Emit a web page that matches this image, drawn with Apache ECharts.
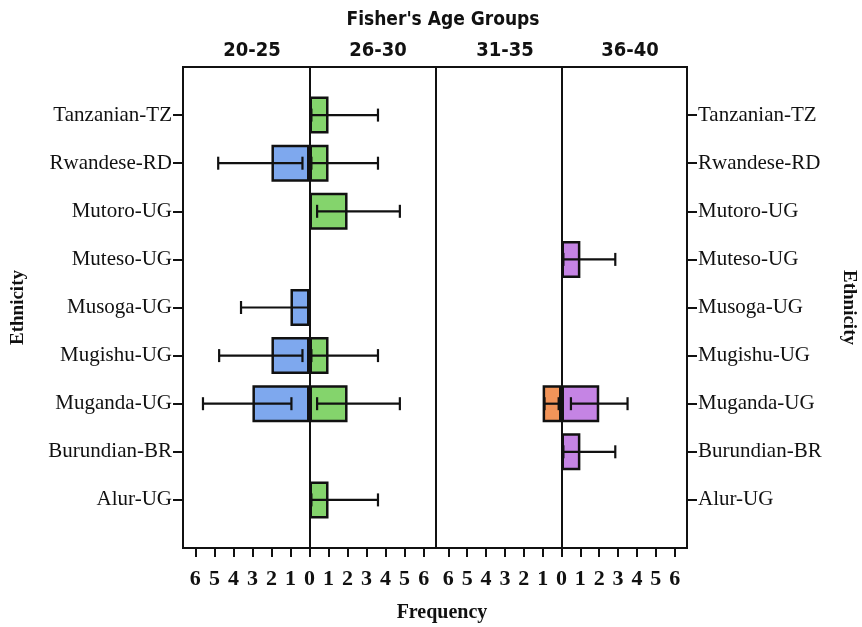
<!DOCTYPE html>
<html>
<head>
<meta charset="utf-8">
<script src="https://cdn.jsdelivr.net/npm/echarts@6/dist/echarts.min.js"></script>
<style>
  html, body { margin: 0; padding: 0; background: #fff; }
  #main { width: 862px; height: 627px; }
</style>
</head>
<body>
<div id="main"></div>
<script>
// ethnic groups, top to bottom as in the figure
var ethnicity = ['Tanzanian-TZ', 'Rwandese-RD', 'Mutoro-UG', 'Muteso-UG', 'Musoga-UG',
                 'Mugishu-UG', 'Muganda-UG', 'Burundian-BR', 'Alur-UG'];
var ageGroups = ['20-25', '26-30', '31-35', '36-40'];
var tickValues = [0, 1, 2, 3, 4, 5, 6];

// frequency per age group (same order as ethnicity)
var freq2025 = [0, 2, 0, 0, 1, 2, 3, 0, 0];
var freq2630 = [1, 1, 2, 0, 0, 1, 2, 0, 1];
var freq3135 = [0, 0, 0, 0, 0, 0, 1, 0, 0];
var freq3640 = [0, 0, 0, 1, 0, 0, 2, 1, 0];

// error bar ends (low / high), null = no bar
var err2025Low  = [null, 0.37, null, null, 0.05, 0.37, 0.95, null, null];
var err2025High = [null, 4.8,  null, null, 3.6,  4.75, 5.6,  null, null];
var err2630Low  = [0.1, 0.1, 0.4, null, null, 0.1, 0.4, null, 0.1];
var err2630High = [3.6, 3.6, 4.75, null, null, 3.6, 4.75, null, 3.6];
var err3135Low  = [null, null, null, null, null, null, 0.15, null, null];
var err3135High = [null, null, null, null, null, null, 0.9, null, null];
var err3640Low  = [null, null, null, 0.1, null, null, 0.5, 0.1, null];
var err3640High = [null, null, null, 2.85, null, null, 3.5, 2.85, null];

var colors = ['#7ea8ee', '#84d46c', '#f29459', '#c584e4'];

// category axis padded with an empty slot at each end, bottom-up
var axisCats = [''].concat(ethnicity.slice().reverse()).concat(['']);
function catIndex(i) { return ethnicity.length - i; }

function barData(arr, sign) {
    return arr.map(function (v, i) {
        return v ? [sign * v, catIndex(i)] : null;
    }).filter(function (d) { return d; });
}
function errData(lo, hi, sign) {
    var out = [];
    lo.forEach(function (v, i) {
        if (v != null) out.push([sign * v, catIndex(i), sign * hi[i]]);
    });
    return out;
}

function renderErr(params, api) {
    var a = api.coord([api.value(0), api.value(1)]);
    var b = api.coord([api.value(2), api.value(1)]);
    var h = 6.5;
    var st = { stroke: '#111', lineWidth: 2.2 };
    return {
        type: 'group',
        children: [
            { type: 'line', shape: { x1: a[0], y1: a[1], x2: b[0], y2: b[1] }, style: st },
            { type: 'line', shape: { x1: a[0], y1: a[1] - h, x2: a[0], y2: a[1] + h }, style: st },
            { type: 'line', shape: { x1: b[0], y1: b[1] - h, x2: b[0], y2: b[1] + h }, style: st }
        ]
    };
}

var serif = '"Liberation Serif", "DejaVu Serif", serif';
var narrow = '"Liberation Sans Narrow", "DejaVu Sans Condensed", "Liberation Sans", sans-serif';

function xAxisFor(idx) {
    var ticks = [];
    tickValues.forEach(function (t) { ticks.push(-t); if (t) ticks.push(t); });
    return {
        type: 'value', gridIndex: idx, min: -6.65, max: 6.65,
        axisLine: { show: true, lineStyle: { color: '#111', width: 2 } },
        axisTick: { show: true, inside: false, length: 9, customValues: ticks,
                    lineStyle: { color: '#111', width: 2 } },
        axisLabel: { customValues: ticks, margin: 20, color: '#111',
                     fontFamily: serif, fontWeight: 'bold', fontSize: 22,
                     formatter: function (v) { return Math.abs(v); } },
        splitLine: { show: false }
    };
}
function yAxisFor(idx, pos, rot, gap) {
    return {
        type: 'category', gridIndex: idx, position: pos, data: axisCats,
        boundaryGap: false,
        name: 'Ethnicity', nameLocation: 'middle', nameGap: gap, nameRotate: rot,
        nameTextStyle: { fontFamily: serif, fontWeight: 'bold', fontSize: 19, color: '#111' },
        axisLine: { show: true, onZero: false, lineStyle: { color: '#111', width: 2 } },
        axisTick: { show: true, length: 10, lineStyle: { color: '#111', width: 2 },
                    interval: function (i, v) { return v !== ''; } },
        axisLabel: { margin: 11, color: '#111', fontFamily: serif, fontSize: 21,
                     interval: function (i, v) { return v !== ''; } }
    };
}

function zeroLine() {
    return {
        silent: true, symbol: 'none', label: { show: false },
        lineStyle: { color: '#111', width: 2, type: 'solid' },
        data: [{ xAxis: 0 }]
    };
}

var barStyle = function (c) {
    return { color: c, borderColor: '#111', borderWidth: 2.5 };
};

var headerX = [247, 373, 500, 625];
var titles = [{
    text: "Fisher's Age Groups", left: 438, top: 6, textAlign: 'center',
    textStyle: { fontFamily: narrow, fontWeight: 'bold', fontSize: 19, color: '#111' }
}, {
    text: 'Frequency', left: 437, top: 598, textAlign: 'center',
    textStyle: { fontFamily: serif, fontWeight: 'bold', fontSize: 20, color: '#111' }
}];
ageGroups.forEach(function (g, i) {
    titles.push({
        text: g, left: headerX[i], top: 36, textAlign: 'center',
        textStyle: { fontFamily: narrow, fontWeight: 'bold', fontSize: 20, color: '#111' }
    });
});

var myChart = echarts.init(document.getElementById('main'), null, { renderer: 'canvas' });
var option = {
    backgroundColor: '#fff',
    animation: false,
    title: titles,
    grid: [
        { left: 183, top: 67, width: 253, height: 481, show: true, borderColor: '#111', borderWidth: 2 },
        { left: 436, top: 67, width: 251, height: 481, show: true, borderColor: '#111', borderWidth: 2 }
    ],
    xAxis: [xAxisFor(0), xAxisFor(1)],
    yAxis: [yAxisFor(0, 'left', 90, 155), yAxisFor(1, 'right', -90, 152)],
    series: [
        { type: 'bar', name: ageGroups[0], xAxisIndex: 0, yAxisIndex: 0, barWidth: 37, barGap: '-100%',
          itemStyle: barStyle(colors[0]), data: barData(freq2025, -1), markLine: zeroLine() },
        { type: 'bar', name: ageGroups[1], xAxisIndex: 0, yAxisIndex: 0, barWidth: 37, barGap: '-100%',
          itemStyle: barStyle(colors[1]), data: barData(freq2630, 1) },
        { type: 'bar', name: ageGroups[2], xAxisIndex: 1, yAxisIndex: 1, barWidth: 37, barGap: '-100%',
          itemStyle: barStyle(colors[2]), data: barData(freq3135, -1), markLine: zeroLine() },
        { type: 'bar', name: ageGroups[3], xAxisIndex: 1, yAxisIndex: 1, barWidth: 37, barGap: '-100%',
          itemStyle: barStyle(colors[3]), data: barData(freq3640, 1) },
        { type: 'custom', xAxisIndex: 0, yAxisIndex: 0, z: 5, renderItem: renderErr,
          encode: { x: [0, 2], y: 1 }, data: errData(err2025Low, err2025High, -1) },
        { type: 'custom', xAxisIndex: 0, yAxisIndex: 0, z: 5, renderItem: renderErr,
          encode: { x: [0, 2], y: 1 }, data: errData(err2630Low, err2630High, 1) },
        { type: 'custom', xAxisIndex: 1, yAxisIndex: 1, z: 5, renderItem: renderErr,
          encode: { x: [0, 2], y: 1 }, data: errData(err3135Low, err3135High, -1) },
        { type: 'custom', xAxisIndex: 1, yAxisIndex: 1, z: 5, renderItem: renderErr,
          encode: { x: [0, 2], y: 1 }, data: errData(err3640Low, err3640High, 1) }
    ]
};
myChart.setOption(option);
</script>
</body>
</html>
